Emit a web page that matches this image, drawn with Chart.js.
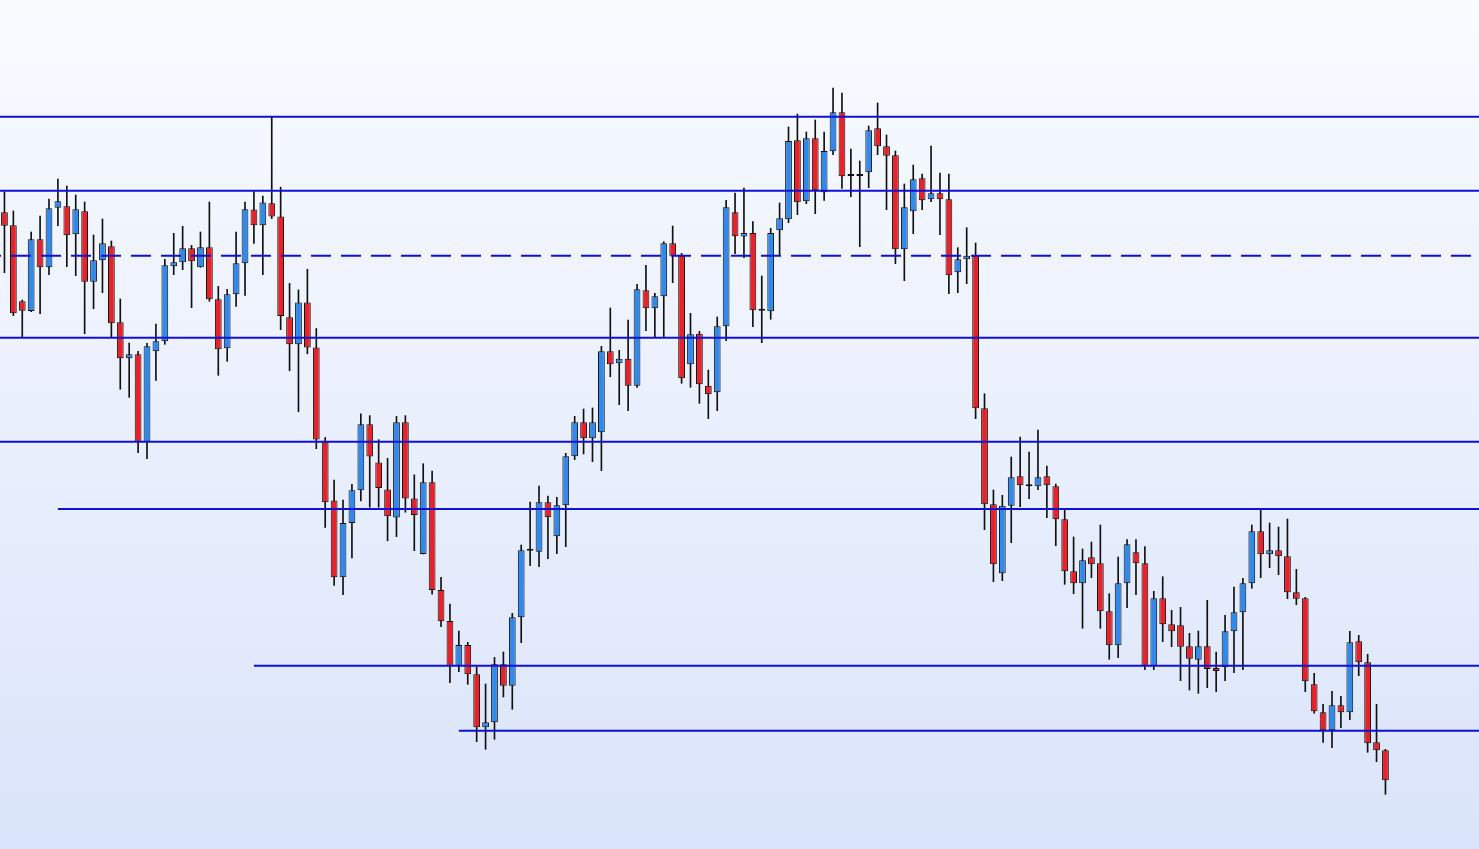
<!DOCTYPE html>
<html>
<head>
<meta charset="utf-8">
<script src="https://cdn.jsdelivr.net/npm/chart.js@4.4.1/dist/chart.umd.min.js"></script>
<style>
    html, body { margin: 0; padding: 0; overflow: hidden; }
    canvas { display: block; }
</style>
</head>
<body>
<canvas id="graficoVelas" width="1479" height="849"></canvas>
<script>
// one value per candle, left to right
const aberturas = [
    787.7, 774.7, 698.7, 689, 760.7, 732.7, 792.3, 793.7, 765.7, 788.7,
    718.3, 739.7, 753.7, 677.7, 641.7, 645.7, 558.3, 648.7, 658.7, 733.7,
    737.7, 751.7, 732.7, 752.7, 700.7, 651.7, 705.7, 736.7, 790.5, 774.7,
    796.7, 783.4, 682.7, 655.8, 697.6, 652.4, 558.3, 499.5, 422.7, 477.1,
    509.8, 575.7, 537.6, 510.6, 482.4, 577.8, 501.5, 446, 517.7, 409.9,
    379, 334.3, 355, 325.7, 272.7, 277.7, 335.7, 314.3, 382.7, 449.3,
    448.3, 497.7, 463.7, 494.7, 543.7, 577.7, 561.7, 567.7, 648.7, 636.7,
    641.3, 614.3, 709.7, 691.7, 703.7, 756.7, 744.3, 635.7, 666.3, 614.3,
    607.7, 673.7, 787.7, 763.5, 767, 689.3, 688.7, 769.7, 780.7, 859.7,
    798.7, 861.7, 807.7, 848.7, 887.7, 824, 824, 827.7, 871.7, 853.7,
    844.7, 750.7, 788.7, 821.7, 800.7, 806.7, 800.7, 727.7, 740.7, 744.3,
    591.7, 495.7, 426.7, 494.3, 523.7, 515.7, 513.7, 523.7, 513.7, 480.7,
    428.7, 416.7, 442.7, 436.7, 388.7, 354.7, 416.7, 447.7, 436.7, 334.3,
    401.7, 375.7, 374.7, 353.7, 340.3, 353.7, 332, 333, 368.7, 387.7,
    416.7, 468.7, 445.7, 449.7, 443.7, 407.7, 401.7, 315.7, 287.7, 269.7,
    294.7, 287.7, 358.7, 337.7, 257.7, 249.7
];
const maximas = [
    808.3, 789, 700, 768, 784, 801, 821, 814, 805, 798,
    765, 781, 759, 701, 657, 648.7, 656.7, 676, 740.7, 766.7,
    773.7, 754.7, 768, 798, 713.7, 710.7, 768, 798, 808.3, 803.8,
    883.4, 812.9, 716.7, 710.1, 730.8, 671.5, 562.5, 519.8, 499.9, 515.6,
    586.1, 584.4, 560.4, 541.7, 583.6, 584.4, 525.2, 536.3, 528.9, 422.7,
    396, 369, 357.7, 333, 316, 342.7, 348, 386.7, 455, 498,
    514, 504, 502.7, 546.7, 583.7, 591, 592, 653.7, 692, 649.7,
    680, 715.7, 734.7, 706.7, 758.3, 774, 746.7, 686.7, 668.7, 630,
    683, 799.7, 807, 812, 778.3, 724, 771.7, 797, 873, 886,
    868, 880, 868, 912, 907, 851, 839, 874, 897, 865,
    849, 816, 835, 826, 854, 827, 826, 752.3, 772.3, 757,
    606.3, 510, 504.7, 543, 563, 548, 570, 534, 516, 490.7,
    463, 451, 458, 475, 406.3, 443, 460.3, 460.3, 453.3, 408.7,
    423.3, 389.7, 392.7, 366.7, 369, 399.7, 348, 384.7, 413, 421.7,
    475, 490.7, 477, 473, 481, 430.7, 402.7, 326.7, 295.7, 308.7,
    303.7, 368.7, 364.7, 345.7, 295.7, 250.7
];
const minimas = [
    727.3, 684.3, 662.3, 688.3, 686.3, 725.3, 774.3, 733.3, 724.3, 666.3,
    691.3, 707.3, 662.3, 610.7, 602.7, 547.3, 541.3, 619.7, 655.7, 725.3,
    730.3, 692.3, 732.7, 698.7, 624.7, 638.7, 693.7, 704.7, 756.5, 725.4,
    781.4, 670.3, 629.2, 588.2, 646.2, 551.3, 472.5, 414.5, 405.3, 442.2,
    499, 492.8, 492.8, 459.2, 463.4, 487.8, 449.3, 446, 405.8, 373.4,
    317.3, 328.3, 315.7, 258.3, 250.7, 260.7, 303, 290.7, 357.3, 434.3,
    433.3, 441.3, 446.3, 453.3, 540.3, 546, 538.3, 529.3, 623.3, 595.3,
    589.3, 612.7, 669.3, 663.3, 663.3, 717.3, 616.7, 612.7, 596.7, 581.3,
    589.3, 659.3, 746.3, 742.3, 673.3, 657.3, 680.7, 744.3, 777.3, 785.3,
    796.3, 786.3, 799.7, 845.3, 811.7, 803.3, 753.3, 812.3, 845.3, 790.3,
    736.3, 719.3, 766.3, 790.3, 798.3, 765.3, 706.3, 707.3, 716.3, 581.3,
    470.3, 418.3, 419.3, 457.3, 493.3, 501.3, 510.3, 482.3, 454.3, 415.7,
    406.3, 371.7, 422.3, 371.7, 340.7, 342.3, 392.3, 405.3, 330.3, 330.3,
    358.3, 353.3, 319.3, 310, 306.7, 312.3, 308.3, 319.3, 327.3, 330.3,
    411.7, 422.3, 432.3, 425.3, 401.3, 395.3, 308.3, 286.7, 257.7, 252.3,
    272.3, 280.3, 324.3, 247.7, 238.3, 205.7
];
const fechamentos = [
    774.3, 686.7, 689.3, 760.7, 732.7, 791.7, 798.7, 764.7, 790.7, 718.3,
    739.7, 756.7, 676.7, 641.7, 645.7, 558.3, 653.7, 658.7, 734.7, 737.7,
    751.7, 738.7, 752.7, 700.7, 650.7, 705.7, 736.7, 790.7, 774.7, 797.5,
    783.4, 684, 655.8, 697.6, 652.4, 560.4, 497.8, 422.7, 477.1, 509.8,
    575.7, 543.4, 511.9, 483.7, 577.8, 501.5, 484.9, 517.7, 409.9, 378.8,
    334.3, 355, 325.7, 272.7, 277.7, 335.7, 314.3, 382.7, 449.7, 449.3,
    497.7, 482.7, 494.7, 543.7, 577.7, 561.7, 577.7, 648.7, 635.7, 641.3,
    614.3, 710.7, 691.7, 703.7, 756.7, 744.3, 621.7, 665.7, 615.7, 605.7,
    673.7, 792.7, 763.7, 767, 689.7, 689.3, 767, 781.7, 859, 797.7,
    861.7, 809.7, 849, 887.7, 823.7, 824, 824, 869.7, 853.7, 844.3,
    750.7, 792.7, 820.7, 799.7, 806.7, 800.7, 724.7, 740.7, 744.3, 591.7,
    495.7, 435.7, 494.3, 522.7, 514.7, 513.7, 522.7, 514.7, 480.7, 428.7,
    416.7, 439.7, 435.7, 388.7, 354.7, 416.7, 455.7, 436.7, 334.3, 401.7,
    375.7, 368.7, 353.3, 341.3, 353.7, 331, 329, 368.7, 387.7, 416.7,
    468.7, 445.7, 449.7, 443.7, 407.7, 401.3, 318.7, 288.7, 269.7, 294.7,
    287.7, 357.7, 337.7, 256.7, 249.7, 219.7
];

// horizontal levels; inicioNivel = candle where the level begins (null = whole width)
const niveis = [883.2, 809.3, 744.3, 662.3, 558.3, 491, 334.3, 269.3];
const inicioNivel = [null, null, null, null, null, 6, 28, 51];
const nivelTracejado = 744.3;

const totalPosicoes = 166; // candles + empty space on the right

const fundo = {
    id: "fundo",
    beforeDraw(chart) {
        const { ctx, width, height } = chart;
        const g = ctx.createLinearGradient(0, 0, 0, height);
        g.addColorStop(0, "#f9fbff");
        g.addColorStop(1, "#dae4fa");
        ctx.save();
        ctx.fillStyle = g;
        ctx.fillRect(0, 0, width, height);
        ctx.restore();
    },
};

document.addEventListener("DOMContentLoaded", function () {
    const ctx = document.getElementById("graficoVelas").getContext("2d");

    const xMin = -0.5;
    const xMax = totalPosicoes - 0.5;

    const corpos = aberturas.map((o, i) => ({ x: i, y: [o, fechamentos[i]] }));
    const pavios = aberturas.map((o, i) => ({ x: i, y: [minimas[i], maximas[i]] }));
    const cores = aberturas.map((o, i) => (fechamentos[i] >= o ? "#3189ec" : "#e6222a"));

    const linhas = niveis.map((v, k) => ({
        type: "line",
        data: [
            { x: inicioNivel[k] ?? xMin, y: v },
            { x: xMax, y: v },
        ],
        borderColor: "#1010d4",
        borderWidth: 2,
        pointRadius: 0,
        borderDash: v === nivelTracejado ? [20, 10] : [],
        borderDashOffset: v === nivelTracejado ? 19 : 0,
        order: 0,
    }));

    new Chart(ctx, {
        type: "bar",
        data: {
            datasets: [
                ...linhas,
                {
                    label: "corpo",
                    data: corpos,
                    backgroundColor: cores,
                    borderColor: "#111111",
                    borderWidth: 1,
                    borderSkipped: false,
                    minBarLength: 2,
                    grouped: false,
                    categoryPercentage: 1,
                    barPercentage: 0.76,
                    order: 1,
                },
                {
                    label: "pavio",
                    data: pavios,
                    backgroundColor: "#111111",
                    barThickness: 1,
                    grouped: false,
                    order: 2,
                },
            ],
        },
        options: {
            responsive: false,
            animation: false,
            layout: { padding: 0 },
            plugins: {
                legend: { display: false },
                tooltip: { enabled: false },
            },
            scales: {
                x: { type: "linear", min: xMin, max: xMax, offset: false, display: false },
                y: { min: 151, max: 1000, display: false },
            },
        },
        plugins: [fundo],
    });
});
</script>
</body>
</html>
